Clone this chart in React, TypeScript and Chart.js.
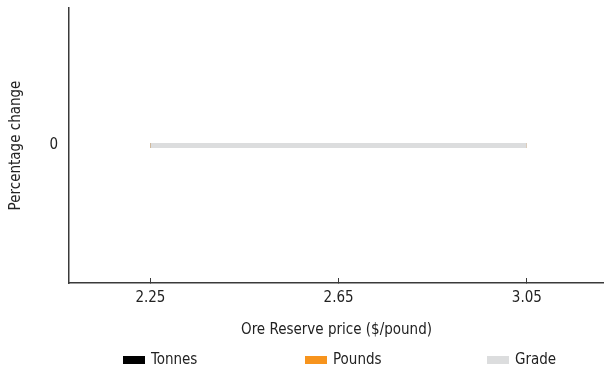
import React, { useEffect, useRef } from "react";
import { Chart, registerables } from "chart.js";

Chart.register(...registerables);

const priceTicks = [2.25, 2.65, 3.05];
const seriesNames = ["Tonnes", "Pounds", "Grade"];
const tonnes = [0, 0, 0];
const pounds = [0, 0, 0];
const grade = [0, 0, 0];
const seriesColors = ["#000000", "#F7941D", "#DCDDDE"];
const xTitle = "Ore Reserve price ($/pound)";
const yTitle = "Percentage change";

const FONT = "'DejaVu Sans Condensed', 'Liberation Sans', sans-serif";
const FS = 15;
const TEXT = "#222222";
const AXIS = "#3a3a3a";

const legendPlugin = {
  id: "columnLegend",
  afterDraw(chart: any) {
    const ctx = chart.ctx;
    ctx.save();
    ctx.font = `${FS}px ${FONT}`;
    ctx.textBaseline = "middle";
    ctx.textAlign = "left";
    const start = 123;
    const step = 182;
    const y = 360;
    seriesNames.forEach((name, i) => {
      const x = start + i * step;
      ctx.fillStyle = seriesColors[i];
      ctx.fillRect(x, y - 4, 22, 8);
      ctx.fillStyle = TEXT;
      ctx.fillText(name, x + 28, y);
    });
    ctx.restore();
  },
};

export default function App() {
  const ref = useRef<HTMLCanvasElement | null>(null);
  useEffect(() => {
    document.body.style.margin = "0";
    const canvas = ref.current;
    if (!canvas) return;
    const mk = (vals: number[]) => priceTicks.map((x, i) => ({ x, y: vals[i] }));
    const chart = new Chart(canvas, {
      type: "line",
      data: {
        datasets: [
          { label: seriesNames[0], data: mk(tonnes), borderColor: seriesColors[0], backgroundColor: seriesColors[0], order: 2 },
          { label: seriesNames[1], data: mk(pounds), borderColor: seriesColors[1], backgroundColor: seriesColors[1], order: 1 },
          { label: seriesNames[2], data: mk(grade), borderColor: seriesColors[2], backgroundColor: seriesColors[2], order: 0 },
        ].map((d) => ({ ...d, borderWidth: 5, pointRadius: 0, borderCapStyle: "butt", tension: 0 })),
      },
      options: {
        responsive: false,
        animation: false,
        events: [],
        layout: { padding: { top: 8, right: 0, bottom: 30, left: 0 } },
        plugins: { legend: { display: false }, tooltip: { enabled: false } },
        scales: {
          x: {
            type: "linear",
            min: 2.077,
            max: 3.214,
            afterBuildTicks: (s: any) => {
              s.ticks = priceTicks.map((v) => ({ value: v }));
            },
            afterFit: (s: any) => {
              s.height = 63;
              s.paddingLeft = 0;
              s.paddingRight = 0;
            },
            border: { display: true, color: AXIS, width: 1.5 },
            grid: { drawOnChartArea: false, drawTicks: true, tickLength: -5, color: AXIS, tickWidth: 1 },
            ticks: {
              padding: 11,
              color: TEXT,
              font: { family: FONT, size: FS },
              autoSkip: false,
              maxRotation: 0,
              callback: (v: any) => Number(v).toFixed(2),
            },
            title: {
              display: true,
              text: xTitle,
              color: TEXT,
              font: { family: FONT, size: FS },
              padding: { top: 4, bottom: 7 },
            },
          },
          y: {
            type: "linear",
            min: -1,
            max: 1,
            afterBuildTicks: (s: any) => {
              s.ticks = [{ value: 0 }];
            },
            afterFit: (s: any) => {
              s.width = 69;
              s.paddingTop = 0;
              s.paddingBottom = 0;
            },
            border: { display: true, color: AXIS, width: 1.5 },
            grid: { drawOnChartArea: false, drawTicks: false },
            ticks: {
              padding: 11,
              color: TEXT,
              font: { family: FONT, size: FS },
              callback: (v: any) => String(v),
            },
            title: {
              display: true,
              text: yTitle,
              color: TEXT,
              font: { family: FONT, size: FS },
              padding: { top: 7, bottom: 0 },
            },
          },
        },
      },
      plugins: [legendPlugin],
    } as any);
    return () => chart.destroy();
  }, []);
  return (
    <div style={{ position: "absolute", left: 0, top: 0, width: 604, height: 376, background: "#fff" }}>
      <canvas ref={ref} width={604} height={376} style={{ width: 604, height: 376, display: "block" }} />
    </div>
  );
}
